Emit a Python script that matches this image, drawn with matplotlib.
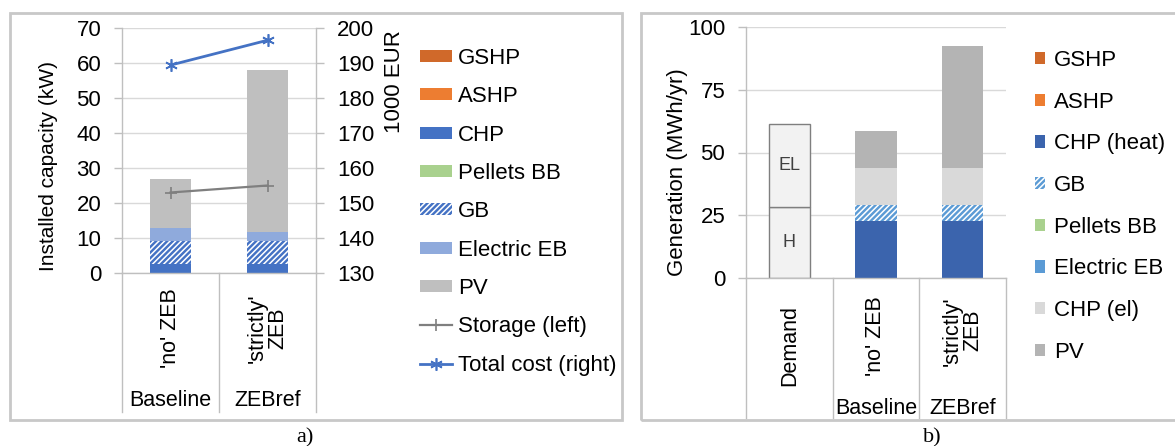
import matplotlib
matplotlib.use("Agg")
import matplotlib.pyplot as plt
from matplotlib.patches import Rectangle

plt.rcParams.update({
    "font.family": ["Liberation Sans", "DejaVu Sans"],
    "font.size": 16,
    "axes.linewidth": 1.0,
    "hatch.linewidth": 1.1,
})

W, H = 1175, 446
FS_TICK = 16
FS_LEG = 16
GRID = "#D9D9D9"
AXIS = "#BFBFBF"

# ---- panel a: installed capacity (kW) ----
cap_categories = ["'no' ZEB", "'strictly'\nZEB"]
cap_groups = ["Baseline", "ZEBref"]
cap_gshp = [0.0, 0.0]
cap_ashp = [0.0, 0.0]
cap_chp = [2.7, 2.7]
cap_pellets = [0.0, 0.0]
cap_gb = [6.5, 6.5]
cap_eeb = [3.7, 2.55]
cap_pv = [14.1, 46.35]
storage_kw = [23.0, 25.0]
total_cost = [189.4, 196.5]  # 1000 EUR

# ---- panel b: generation (MWh/yr) ----
gen_categories = ["Demand", "'no' ZEB", "'strictly'\nZEB"]
gen_groups = ["Baseline", "ZEBref"]
demand_h = 28.2
demand_el = 33.1
gen_gshp = [0.0, 0.0]
gen_ashp = [0.0, 0.0]
gen_chp_heat = [22.9, 22.9]
gen_gb = [6.0, 6.0]
gen_pellets = [0.0, 0.0]
gen_eeb = [0.0, 0.0]
gen_chp_el = [14.8, 14.8]
gen_pv = [14.8, 48.8]


def px_axes(fig, x0, y0, x1, y1):
    return fig.add_axes([x0 / W, 1 - y1 / H, (x1 - x0) / W, (y1 - y0) / H])


def style_axis(ax, ticklen):
    ax.set_axisbelow(True)
    ax.yaxis.grid(True, color=GRID, lw=1)
    ax.set_xticks([])
    for s in ("top", "right"):
        ax.spines[s].set_visible(False)
    ax.spines["left"].set_color(AXIS)
    ax.spines["bottom"].set_color(AXIS)
    ax.tick_params(axis="y", length=ticklen, width=1, color=AXIS, pad=9, labelsize=FS_TICK)


def separators(ax, xs, depth):
    for x in xs:
        ax.axvline(x, ymin=-depth, ymax=0, clip_on=False, color=AXIS, lw=1)


fig = plt.figure(figsize=(W / 100, H / 100), dpi=100)

# panel frames
fig.add_artist(Rectangle((10 / W, 1 - 420 / H), 612 / W, 407 / H, transform=fig.transFigure,
                         fill=False, ec="#C8C8C8", lw=2))
fig.add_artist(Rectangle((641 / W, 1 - 420 / H), 560 / W, 407 / H, transform=fig.transFigure,
                         fill=False, ec="#C8C8C8", lw=2))

# ================= panel a =================
ax = px_axes(fig, 122, 28, 316, 273)
style_axis(ax, 6)
xa = list(range(len(cap_categories)))
series_a = [
    ("GSHP", cap_gshp, dict(color="#D0692A")),
    ("ASHP", cap_ashp, dict(color="#ED7D31")),
    ("CHP", cap_chp, dict(color="#4472C4")),
    ("Pellets BB", cap_pellets, dict(color="#A9D18E")),
    ("GB", cap_gb, dict(facecolor="#4472C4", edgecolor="white", hatch="//////", lw=0)),
    ("Electric EB", cap_eeb, dict(color="#8FAADC")),
    ("PV", cap_pv, dict(color="#BFBFBF")),
]
bottom = [0.0] * len(xa)
handles_a = []
for name, vals, kw in series_a:
    b = ax.bar(xa, vals, width=0.43, bottom=bottom, label=name, zorder=2, **kw)
    handles_a.append(b)
    bottom = [p + v for p, v in zip(bottom, vals)]
st, = ax.plot(xa, storage_kw, color="#7F7F7F", lw=1.6, marker="+", ms=9, mew=1.2,
              label="Storage (left)", zorder=4)
ax.set_xlim(-0.5, 1.5)
ax.set_ylim(0, 70)
ax.set_yticks(range(0, 71, 10))
ax.set_ylabel("Installed capacity (kW)", fontsize=15)
ax.yaxis.set_label_coords(-0.33, 0.435)

ax2 = ax.twinx()
ax2.set_ylim(130, 200)
ax2.set_yticks(range(130, 201, 10))
for s in ("top", "left", "bottom"):
    ax2.spines[s].set_visible(False)
ax2.spines["right"].set_color(AXIS)
ax2.tick_params(axis="y", length=6, width=1, color=AXIS, pad=9, labelsize=FS_TICK)
tc, = ax2.plot(xa, total_cost, color="#4472C4", lw=2, marker=(6, 2, 0), ms=9, mew=1.2,
               mec="#4472C4", label="Total cost (right)", zorder=4)
ax2.set_ylabel("1000 EUR", fontsize=16)
ax2.yaxis.set_label_coords(1.35, 0.78)

separators(ax, [-0.5, 0.5, 1.5], 0.567)
for i, lab in enumerate(cap_categories):
    ax.text(i, -0.225, lab, rotation=90, ha="center", va="center", multialignment="center",
            transform=ax.get_xaxis_transform(), fontsize=15.5, linespacing=0.95)
    ax.text(i, -0.52, cap_groups[i], ha="center", va="center",
            transform=ax.get_xaxis_transform(), fontsize=15.5)

fig.legend(handles=handles_a + [st, tc], loc="upper left", bbox_to_anchor=(420 / W, 1 - 48 / H),
           frameon=False, fontsize=FS_LEG, borderpad=0, borderaxespad=0,
           handlelength=1.45, handleheight=0.45, handletextpad=0.25, labelspacing=0.78)

# ================= panel b =================
bx = px_axes(fig, 746, 27, 1006, 278)
style_axis(bx, 6)
bx.bar([0], [demand_h], width=0.48, color="#F2F2F2", ec="#7F7F7F", lw=1, zorder=2)
bx.bar([0], [demand_el], width=0.48, bottom=[demand_h], color="#F2F2F2", ec="#7F7F7F", lw=1, zorder=2)
bx.text(0, demand_h / 2, "H", ha="center", va="center", fontsize=13, color="#404040")
bx.text(0, demand_h + demand_el / 2, "EL", ha="center", va="center", fontsize=13, color="#404040")

xb = [1, 2]
series_b = [
    ("GSHP", gen_gshp, dict(color="#D0692A")),
    ("ASHP", gen_ashp, dict(color="#ED7D31")),
    ("CHP (heat)", gen_chp_heat, dict(color="#3B64AD")),
    ("GB", gen_gb, dict(facecolor="#5B9BD5", edgecolor="white", hatch="//////", lw=0)),
    ("Pellets BB", gen_pellets, dict(color="#A9D18E")),
    ("Electric EB", gen_eeb, dict(color="#5B9BD5")),
    ("CHP (el)", gen_chp_el, dict(color="#D9D9D9")),
    ("PV", gen_pv, dict(color="#B4B4B4")),
]
bottom = [0.0] * len(xb)
handles_b = []
for name, vals, kw in series_b:
    b = bx.bar(xb, vals, width=0.48, bottom=bottom, label=name, zorder=2, **kw)
    handles_b.append(b)
    bottom = [p + v for p, v in zip(bottom, vals)]
bx.set_xlim(-0.5, 2.5)
bx.set_ylim(0, 100)
bx.set_yticks(range(0, 101, 25))
bx.set_ylabel("Generation (MWh/yr)", fontsize=16)
bx.yaxis.set_label_coords(-0.225, 0.42)

separators(bx, [-0.5, 0.5, 1.5, 2.5], 0.558)
label_y = [-0.27, -0.23, -0.21]
for i, lab in enumerate(gen_categories):
    bx.text(i, label_y[i], lab, rotation=90, ha="center", va="center", multialignment="center",
            transform=bx.get_xaxis_transform(), fontsize=15.5, linespacing=0.95)
for i, lab in enumerate(gen_groups):
    bx.text(i + 1, -0.52, lab, ha="center", va="center",
            transform=bx.get_xaxis_transform(), fontsize=15.5)

fig.legend(handles=handles_b, loc="upper left", bbox_to_anchor=(1035 / W, 1 - 50 / H),
           frameon=False, fontsize=FS_LEG, borderpad=0, borderaxespad=0,
           handlelength=0.47, handleheight=0.47, handletextpad=0.37, labelspacing=0.93)

fig.text(305 / W, 1 - 438 / H, "a)", ha="center", va="center", fontsize=16,
         family="Liberation Serif")
fig.text(932 / W, 1 - 438 / H, "b)", ha="center", va="center", fontsize=16,
         family="Liberation Serif")

fig.savefig("out.png", dpi=100)
